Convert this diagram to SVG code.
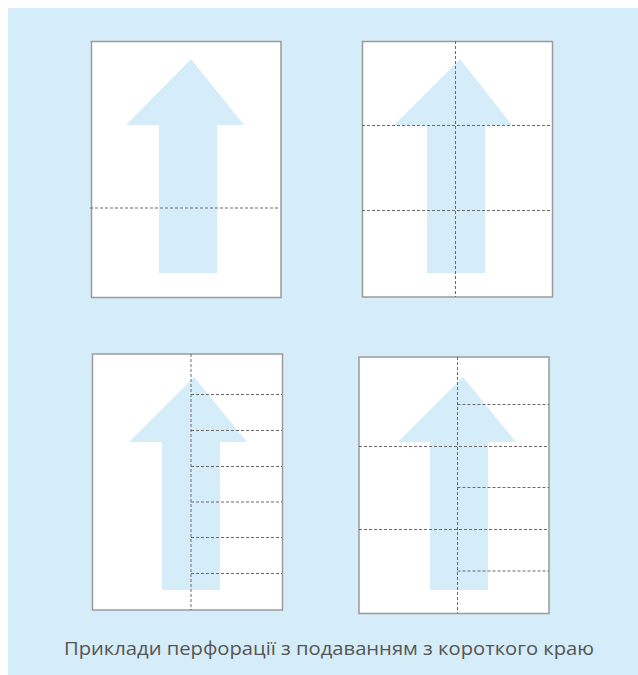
<svg xmlns="http://www.w3.org/2000/svg" width="638" height="675" viewBox="0 0 638 675">
<style>
.page{fill:#fff;stroke:#9a9a9a;stroke-width:1.5}
.arrow{fill:#d5ecf9}
.perf{stroke:#6a6a6a;stroke-width:1;stroke-dasharray:3,2;fill:none}
.cap{font-family:"Open Sans","Noto Sans",sans-serif;font-size:19px;fill:#555}
</style>
<rect x="8" y="8" width="630" height="667" fill="#d5ecf9"/>
<g id="page1">
<rect class="page" x="91.5" y="41.5" width="189.5" height="256"/>
<polygon class="arrow" points="191,59 244,125 217,125 217,273 159,273 159,125 126,125"/>
</g>
<g id="page2">
<rect class="page" x="362.5" y="41.5" width="190" height="255.5"/>
<polygon class="arrow" points="460,59 512,125 485,125 485,273 427,273 427,125 394,125"/>
</g>
<g id="page3">
<rect class="page" x="92.5" y="354" width="190" height="256"/>
<polygon class="arrow" points="194,377 247,442 220,442 220,590 162,590 162,442 129,442"/>
</g>
<g id="page4">
<rect class="page" x="359" y="357" width="190" height="256.5"/>
<polygon class="arrow" points="463,377 516,442 488,442 488,590 430,590 430,442 398,442"/>
</g>
<g id="connectors">
<path class="perf" d="M90 208H280"/>
<path class="perf" d="M455.5 41V297M362 125.5H552M362 210.5H552"/>
<path class="perf" d="M191 354V610M191 394.5H282M191 430.5H282M191 466.5H282M191 502H282M191 537.5H282M191 573.5H282"/>
<path class="perf" d="M457.5 357V613M359 446.5H549M359 529.5H549M457.5 404.5H549M457.5 487.5H549M457.5 571H549"/>
</g>
<text class="cap" x="329" y="655" text-anchor="middle" textLength="530" lengthAdjust="spacingAndGlyphs">Приклади перфорації з подаванням з короткого краю</text>
</svg>
